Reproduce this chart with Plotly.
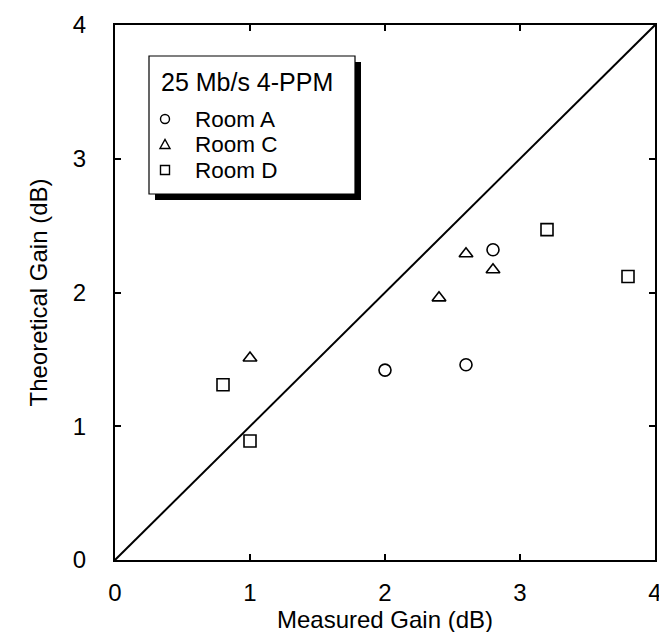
import plotly.graph_objects as go

# Data (Measured gain, Theoretical gain) in dB
room_a_x = [2.0, 2.6, 2.8]
room_a_y = [1.42, 1.46, 2.32]
room_c_x = [1.0, 2.4, 2.6, 2.8]
room_c_y = [1.51, 1.96, 2.29, 2.17]
room_d_x = [0.8, 1.0, 3.2, 3.8]
room_d_y = [1.31, 0.89, 2.47, 2.12]
diag = [0, 4]
ticks = [0, 1, 2, 3, 4]
legend_title = "25 Mb/s 4-PPM"
legend_names = ["Room A", "Room C", "Room D"]

FONT = "Liberation Sans, Arial, Helvetica, sans-serif"
W, H = 667, 632
ML, MR, MT, MB = 107, 20, 17, 80
PW, PH = W - ML - MR, H - MT - MB


def px(x):  # pixel -> paper (plot area) coordinate
    return (x - ML) / PW


def py(y):
    return (H - MB - y) / PH


mk = dict(color="white", size=12, line=dict(color="black", width=1.6))

fig = go.Figure()
fig.add_trace(go.Scatter(x=diag, y=diag, mode="lines", line=dict(color="black", width=2),
                         showlegend=False, hoverinfo="skip"))
fig.add_trace(go.Scatter(x=room_a_x, y=room_a_y, mode="markers", name=legend_names[0],
                         marker=dict(symbol="circle", **mk), showlegend=False))
fig.add_trace(go.Scatter(x=room_c_x, y=room_c_y, mode="markers", name=legend_names[1],
                         marker=dict(symbol="triangle-up", **mk), showlegend=False))
fig.add_trace(go.Scatter(x=room_d_x, y=room_d_y, mode="markers", name=legend_names[2],
                         marker=dict(symbol="square", **mk), showlegend=False))

axis_common = dict(range=[0, 4], tickvals=ticks, ticks="inside", ticklen=6, tickwidth=1.5,
                   tickcolor="black", showline=True, linecolor="black", linewidth=2,
                   mirror="ticks", showgrid=False, zeroline=False, automargin=False,
                   tickfont=dict(family=FONT, size=24, color="black"))

fig.update_xaxes(title=dict(text="Measured Gain (dB)", font=dict(family=FONT, size=24, color="black"),
                            standoff=4), ticklabelstandoff=10, **axis_common)
fig.update_yaxes(title=dict(text="Theoretical Gain (dB)", font=dict(family=FONT, size=24, color="black"),
                            standoff=18), ticklabelstandoff=22, **axis_common)

# Legend box with drop shadow
bx0, bx1, by0, by1 = 141, 347, 48, 186
sh = 6
fig.add_shape(type="rect", xref="paper", yref="paper",
              x0=px(bx0 + sh), x1=px(bx1 + sh), y0=py(by1 + sh), y1=py(by0 + sh),
              fillcolor="black", line=dict(width=0), layer="above")
fig.add_shape(type="rect", xref="paper", yref="paper",
              x0=px(bx0), x1=px(bx1), y0=py(by1), y1=py(by0),
              fillcolor="white", line=dict(color="black", width=1.2), layer="above")

fig.add_annotation(xref="paper", yref="paper", x=px(152), y=py(74), xanchor="left", yanchor="middle",
                   text=legend_title, showarrow=False, borderpad=0,
                   font=dict(family=FONT, size=25, color="black"))
key_x = 157
key_ys = [111, 136.5, 162]
for name, yk in zip(legend_names, key_ys):
    fig.add_annotation(xref="paper", yref="paper", x=px(186), y=py(yk), xanchor="left", yanchor="middle",
                       text=name, showarrow=False, borderpad=0,
                       font=dict(family=FONT, size=22.5, color="black"))
# legend keys
r = 4.5
kl = dict(color="black", width=1.4)
fig.add_shape(type="circle", xref="paper", yref="paper",
              x0=px(key_x - r), x1=px(key_x + r), y0=py(key_ys[0] + r), y1=py(key_ys[0] - r),
              line=kl, fillcolor="white", layer="above")
tri = "M {},{} L {},{} L {},{} Z".format(px(key_x - 5), py(key_ys[1] + 4), px(key_x + 5), py(key_ys[1] + 4),
                                          px(key_x), py(key_ys[1] - 5))
fig.add_shape(type="path", xref="paper", yref="paper", path=tri, line=kl, fillcolor="white", layer="above")
fig.add_shape(type="rect", xref="paper", yref="paper",
              x0=px(key_x - r), x1=px(key_x + r), y0=py(key_ys[2] + r), y1=py(key_ys[2] - r),
              line=kl, fillcolor="white", layer="above")

fig.update_layout(
    width=W, height=H,
    margin=dict(l=ML, r=MR, t=MT, b=MB),
    paper_bgcolor="white", plot_bgcolor="white",
    font=dict(family=FONT, color="black"),
    showlegend=False,
)

fig.write_html("out.html")
